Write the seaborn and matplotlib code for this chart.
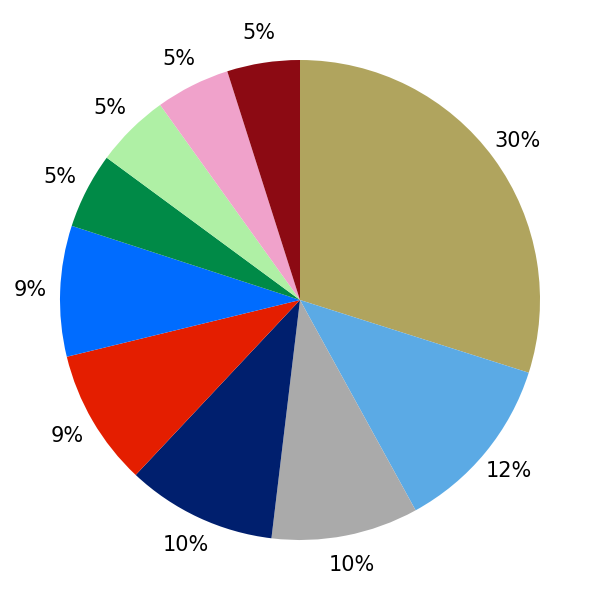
import matplotlib
matplotlib.use("Agg")
import matplotlib.pyplot as plt
import seaborn as sns

# slice values (percent), clockwise from the top
values = [29.9, 12.1, 9.9, 10.1, 9.2, 8.8, 5.1, 5.0, 5.0, 4.9]
colors = ["#B0A45E", "#5BAAE5", "#AAAAAA", "#001F6E", "#E41E00",
          "#006CFF", "#008A47", "#AFF0A5", "#F0A2CB", "#8C0A13"]

sns.set_theme(style="white")
plt.rcParams['font.family'] = ['DejaVu Sans']

fig = plt.figure(figsize=(6, 6), dpi=100)
ax = fig.add_axes([0.1, 0.1, 0.8, 0.8])
wedges, texts, autotexts = ax.pie(
    values, colors=colors, startangle=90, counterclock=False,
    autopct='%1.0f%%', pctdistance=1.125,
    textprops={'fontsize': 15, 'color': '#000000'},
    wedgeprops={'linewidth': 0})
for t in autotexts:
    t.set_clip_on(False)
ax.set_xlim(-1, 1)
ax.set_ylim(-1, 1)
ax.set_aspect('equal')
ax.axis('off')
fig.savefig("out.png", dpi=100, facecolor="white")
